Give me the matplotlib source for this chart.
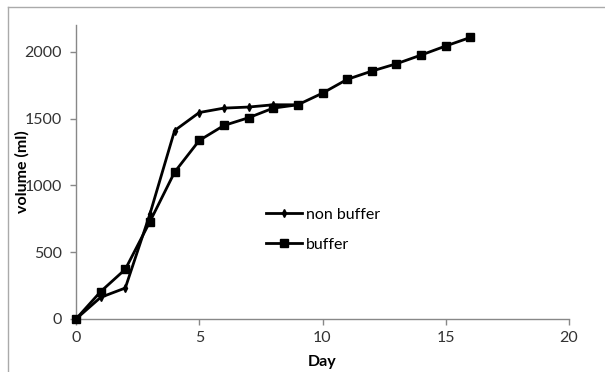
import matplotlib
matplotlib.use("Agg")
import matplotlib.pyplot as plt
from matplotlib.lines import Line2D

plt.rcParams['font.family'] = ['Lato', 'DejaVu Sans']

days_nb = [0, 1, 2, 3, 4, 5, 6, 7, 8, 9]
non_buffer = [0, 162, 232, 786, 1410, 1545, 1578, 1586, 1603, 1603]
days_b = [0, 1, 2, 3, 4, 5, 6, 7, 8, 9, 10, 11, 12, 13, 14, 15, 16]
buffer = [0, 205, 372, 729, 1099, 1336, 1448, 1506, 1578, 1603, 1690, 1793, 1855, 1910, 1975, 2043, 2107]
xticks = [0, 5, 10, 15, 20]
yticks = [0, 500, 1000, 1500, 2000]

W, H = 605, 372
fig = plt.figure(figsize=(W/100, H/100), dpi=100)
ax = fig.add_axes([76/W, 1-319/H, (569-76)/W, (319-25)/H])

ax.plot(days_nb, non_buffer, color='black', lw=2, marker='d', ms=4, label='non buffer', zorder=3)
ax.plot(days_b, buffer, color='black', lw=2, marker='s', ms=6, label='buffer', zorder=3)

ax.set_xlim(0, 20)
ax.set_ylim(0, 2200)
ax.set_xticks(xticks)
ax.set_yticks(yticks)
for s in ['top', 'right']:
    ax.spines[s].set_visible(False)
for s in ['left', 'bottom']:
    ax.spines[s].set_color('#888888')
    ax.spines[s].set_linewidth(1)
ax.tick_params(axis='both', colors='#888888', labelcolor='#333333', labelsize=11.5, length=4, width=1)
ax.tick_params(axis='x', pad=5)
ax.tick_params(axis='y', pad=6)
for ln in ax.lines:
    ln.set_clip_on(False)

ax.set_xlabel('Day', fontsize=11.5, fontweight='bold', va='center')
ax.set_ylabel('volume (ml)', fontsize=11.5, fontweight='bold', va='center')
ax.xaxis.set_label_coords(0.5, -(362-319)/(319-25))
ax.yaxis.set_label_coords((22-76)/(569-76), 0.5)

leg = ax.legend(loc='upper left', bbox_to_anchor=((252-76)/(569-76), (319-193)/(319-25)),
                frameon=False, fontsize=11.5, handlelength=2.2, handletextpad=0.25,
                labelspacing=1.0, numpoints=1)

# outer frame lines (left and top)
fig.add_artist(Line2D([8/W, 8/W], [0, 1-7/H], transform=fig.transFigure, color='#aaaaaa', lw=1))
fig.add_artist(Line2D([8/W, 1], [1-7/H, 1-7/H], transform=fig.transFigure, color='#aaaaaa', lw=1))

fig.savefig('out.png', dpi=100)
